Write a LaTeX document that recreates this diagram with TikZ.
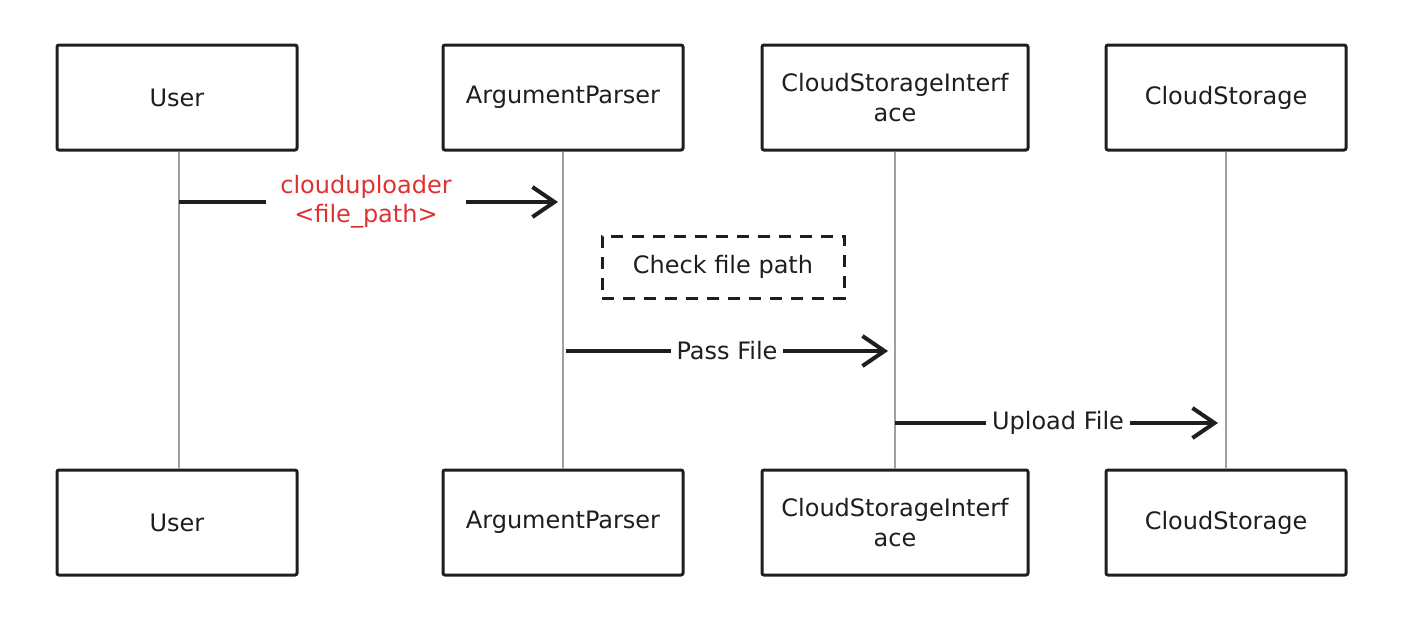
\documentclass[tikz,border=0pt]{standalone}
\usepackage{fontspec}
\setmainfont{DejaVu Sans}
\usetikzlibrary{arrows.meta}
\definecolor{ink}{HTML}{1E1E1E}
\definecolor{exred}{HTML}{E03131}
\definecolor{life}{HTML}{A0A0A0}
\tikzset{
  actor/.style={draw=ink, line width=3pt, rounded corners=2pt, fill=white,
    minimum width=240pt, minimum height=105pt, inner sep=0pt, align=center,
    font=\fontsize{24}{30}\selectfont, text=ink},
  lifeline/.style={draw=life, line width=1.5pt},
  msg/.style={draw=ink, line width=4pt,
    -{Straight Barb[length=22pt,width=30pt,line width=4pt]}},
  msglabel/.style={fill=white, inner xsep=6pt, inner ysep=2pt, align=center,
    font=\fontsize{24}{29}\selectfont, text=ink},
  notebox/.style={draw=ink, line width=3pt, dash pattern=on 12pt off 9pt,
    minimum width=242pt, minimum height=62pt, inner sep=0pt,
    font=\fontsize{24}{30}\selectfont, text=ink}
}
\begin{document}
\begin{tikzpicture}[x=1pt,y=-1pt]
\useasboundingbox (0,0) rectangle (1427,619);
% top actors
\node[actor] (ut)  at (177,97.5)  {User};
\node[actor] (apt) at (563,97.5)  {ArgumentParser};
\node[actor, minimum width=266pt] (cit) at (895,97.5) {CloudStorageInterf\\ace};
\node[actor] (cst) at (1226,97.5) {CloudStorage};
% bottom actors
\node[actor] (ub)  at (177,522.5) {User};
\node[actor] (apb) at (563,522.5) {ArgumentParser};
\node[actor, minimum width=266pt] (cib) at (895,522.5) {CloudStorageInterf\\ace};
\node[actor] (csb) at (1226,522.5) {CloudStorage};
% lifelines
\draw[lifeline] ([xshift=2pt]ut.south) -- ([xshift=2pt]ub.north);
\draw[lifeline] (apt.south) -- (apb.north);
\draw[lifeline] (cit.south) -- (cib.north);
\draw[lifeline] (cst.south) -- (csb.north);
% message end points
\coordinate (m1a) at (179,202); \coordinate (m1b) at (558,202);
\coordinate (m2a) at (566,351); \coordinate (m2b) at (888,351);
\coordinate (m3a) at (895,423); \coordinate (m3b) at (1218,423);
% messages
\draw[msg] (m1a) -- (m1b);
\node[msglabel, text=exred, inner xsep=14pt] (l1) at (366,202) {clouduploader\\<file\_path>};
\draw[msg] (m2a) -- (m2b);
\node[msglabel] (l2) at (727,351) {Pass File};
\draw[msg] (m3a) -- (m3b);
\node[msglabel] (l3) at (1058,423) {Upload File};
% note
\node[notebox] (chk) at (723,267) {Check file path};
\end{tikzpicture}
\end{document}
